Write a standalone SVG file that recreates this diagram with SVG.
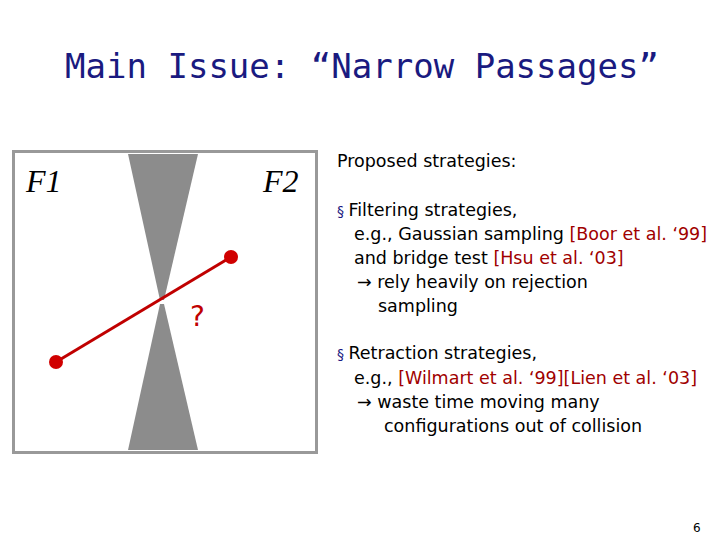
<svg xmlns="http://www.w3.org/2000/svg" width="720" height="540" viewBox="0 0 720 540">
<style>
.t{font-family:"Comic Sans MS","DejaVu Sans","Liberation Sans",sans-serif;font-size:17.5px;fill:#000}
.r{fill:#a00000}
</style>
<rect width="720" height="540" fill="#fff"/>
<text x="362" y="78" text-anchor="middle" font-family="'DejaVu Sans Mono','Liberation Mono',monospace" font-size="34" textLength="594" fill="#1a1a80">Main Issue: “Narrow Passages”</text>
<g id="figure">
<rect x="13.5" y="151.5" width="303" height="301" fill="#fff" stroke="#999" stroke-width="3"/>
<polygon points="128,154 198,154 164,300 160,300" fill="#8c8c8c"/>
<polygon points="160,304 164,304 198,450 128,450" fill="#8c8c8c"/>
<text x="26" y="192" font-family="'Liberation Serif',serif" font-style="italic" font-size="32">F1</text>
<text x="263" y="192" font-family="'Liberation Serif',serif" font-style="italic" font-size="32">F2</text>
<line x1="56" y1="362" x2="231" y2="257" stroke="#c00000" stroke-width="3"/>
<circle cx="56" cy="362" r="7" fill="#d00000"/>
<circle cx="231" cy="257" r="7" fill="#d00000"/>
<text x="190" y="326" font-family="'DejaVu Sans',sans-serif" font-size="28" fill="#c00000">?</text>
</g>
<g id="text">
<text class="t" x="337" y="167">Proposed strategies:</text>
<text class="t" x="337" y="216"><tspan fill="#1a1a80" font-size="14">§ </tspan>Filtering strategies,</text>
<text class="t" x="354" y="240">e.g., Gaussian sampling <tspan class="r">[Boor et al. ‘99]</tspan></text>
<text class="t" x="354" y="264">and bridge test <tspan class="r">[Hsu et al. ‘03]</tspan></text>
<text class="t" x="357" y="288">→ rely heavily on rejection</text>
<text class="t" x="378" y="312">sampling</text>
<text class="t" x="337" y="359"><tspan fill="#1a1a80" font-size="14">§ </tspan>Retraction strategies,</text>
<text class="t" x="354" y="384">e.g., <tspan class="r">[Wilmart et al. ‘99][Lien et al. ‘03]</tspan></text>
<text class="t" x="357" y="408">→ waste time moving many</text>
<text class="t" x="384" y="432">configurations out of collision</text>
<text x="693" y="532" font-family="'DejaVu Sans',sans-serif" font-size="12">6</text>
</g>
</svg>
